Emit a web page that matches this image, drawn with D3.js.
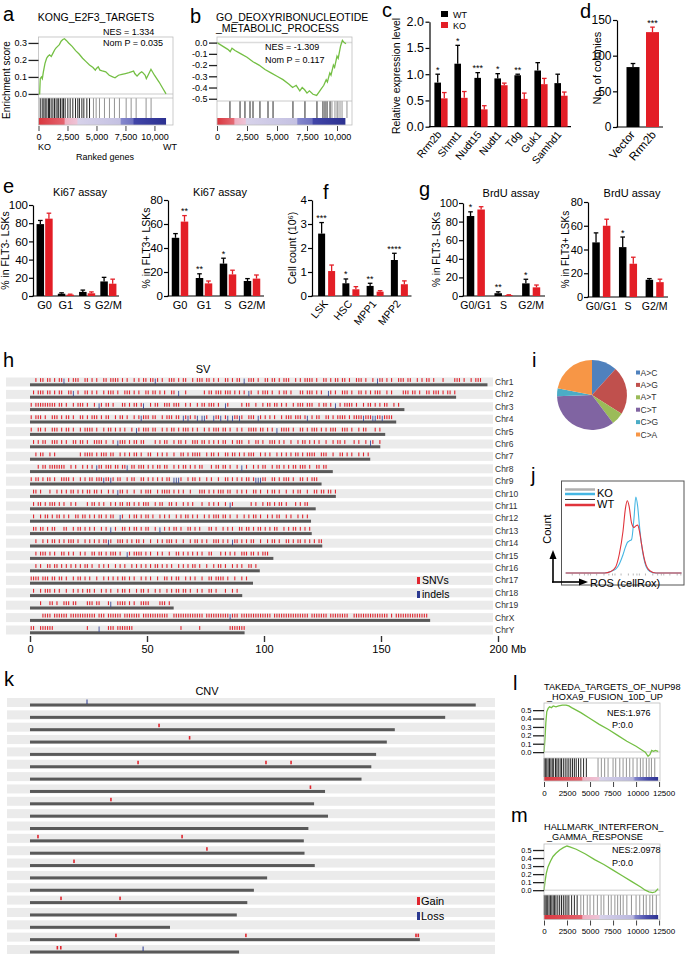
<!DOCTYPE html>
<html><head><meta charset="utf-8">
<script src="https://cdn.jsdelivr.net/npm/d3@7"></script>
<style>body{margin:0;background:#fff}</style>
</head><body>
<script>
// ================= DATA =================
// a: KONG_E2F3_TARGETS running enrichment score
const gseaA_rank = [0,100,150,250,330,420,560,700,800,950,1100,1250,1400,1500,1650,1800,1950,2100,2240,2400,2600,2900,3200,3500,3800,4100,4400,4700,4900,5000,5150,5300,5500,5800,6100,6400,6600,6900,7200,7500,7800,8000,8200,8300,8500,8700,8900,9000,9200,9300,9450,9700,10000,10400,10700,11000];
const gseaA_es = [0,0.0,0.09,0.10,0.09,0.13,0.18,0.21,0.22,0.23,0.22,0.24,0.26,0.27,0.28,0.29,0.31,0.32,0.325,0.315,0.30,0.28,0.255,0.235,0.21,0.19,0.17,0.155,0.14,0.15,0.16,0.14,0.135,0.13,0.11,0.10,0.095,0.11,0.115,0.12,0.125,0.13,0.135,0.12,0.105,0.12,0.13,0.125,0.11,0.09,0.11,0.145,0.11,0.07,0.035,0.0];
const gseaA_hits = [150,320,460,580,720,860,950,1090,1240,1380,1520,1670,1750,1900,2040,2160,2300,2530,2730,2960,3190,3390,3530,3740,3910,4170,4400,4740,4970,5260,5690,6120,6550,6980,7560,7990,8420,9280,9710];
// b: GO_DEOXYRIBONUCLEOTIDE_METABOLIC_PROCESS
const gseaB_rank = [0,300,600,900,1100,1250,1500,2000,2500,3000,3500,4000,4500,5000,5500,6000,6300,6600,6900,7100,7300,7500,7700,8000,8300,8500,8700,8900,9100,9200,9400,9500,9700,9800,10000,10100,10300,10450,10600,10750];
const gseaB_es = [0,-0.02,-0.04,-0.06,-0.08,-0.05,-0.07,-0.10,-0.13,-0.17,-0.20,-0.24,-0.27,-0.30,-0.33,-0.37,-0.40,-0.38,-0.43,-0.40,-0.42,-0.45,-0.43,-0.46,-0.47,-0.44,-0.41,-0.38,-0.33,-0.35,-0.27,-0.29,-0.20,-0.22,-0.12,-0.14,-0.03,0.02,0.0,-0.01];
const gseaB_hits = [1080,1920,2330,2750,3000,3580,4250,4670,6330,7330,8330,8830,9000,9170,9420,9580,9830,10000,10080,10250,10420,10830];
// l: TAKEDA_TARGETS_OF_NUP98_HOXA9_FUSION_10D_UP
const gseaL_rank = [0,100,200,300,450,600,800,1000,1300,1600,2000,2400,2700,3000,4000,5000,6000,7000,8000,9000,10000,10500,11000,11300,11500,11700,11900,12100,12400];
const gseaL_es = [0,0.15,0.35,0.48,0.52,0.54,0.53,0.55,0.54,0.55,0.56,0.56,0.55,0.53,0.47,0.40,0.33,0.27,0.20,0.13,0.07,0.035,0.0,-0.05,-0.03,0.02,0.01,0.02,0.01];
const gseaL_hits = [30,150,300,450,600,750,900,1050,1250,1400,1550,1750,1900,2100,2300,2500,2700,2900,3100,3300,3500,3750,4000,4300,4600,5870,6230,6590,6960,7500,7790,8230,8590,8950,9310,9670,10110,10470,10760,11120,11410,11670,12030];
// m: HALLMARK_INTERFERON_GAMMA_RESPONSE
const gseaM_rank = [0,100,250,430,700,980,1300,1700,2100,2500,2800,3500,4500,5500,6500,7500,8500,9500,10500,11000,11400,11800,12100,12400];
const gseaM_es = [0,0.1,0.21,0.29,0.36,0.42,0.46,0.5,0.53,0.55,0.54,0.51,0.45,0.38,0.32,0.25,0.18,0.11,0.04,0.0,-0.02,-0.03,-0.02,0.02];
const gseaM_hits = [30,120,250,400,550,700,850,1000,1150,1300,1500,1700,1900,2100,2300,2500,2700,3000,3300,3600,4000,4300,4700,5000,5400,5800,6200,6500,7000,7300,7700,8000,8300,8600,9000,9500,10000,10400,10800,11100,11500,11800,12200];

// c: relative expression
const cCats = ["Rrm2b","Shmt1","Nudt15","Nudt1","Tdg","Guk1","Samhd1"];
const cWT = [0.84,1.20,0.93,0.92,0.98,1.07,0.83];
const cWTerr = [0.16,0.35,0.10,0.09,0.02,0.15,0.17];
const cKO = [0.54,0.55,0.33,0.79,0.53,0.81,0.59];
const cKOerr = [0.11,0.12,0.07,0.04,0.11,0.11,0.07];
const cStars = ["*","*","***","*","**","",""];
const cTicks = [0,0.5,1.0,1.5,2.0];
// d: colonies
const dCats = ["Vector","Rrm2b"];
const dVal = [84,133];
const dErr = [5,7];
const dStars = ["","***"];
const dTicks = [0,50,100,150];
// e: Ki67
const eCats = ["G0","G1","S","G2/M"];
const e1WT = [79,2.5,4.5,16], e1WTerr = [4,1,2,4.5];
const e1KO = [85,1.5,3,13.5], e1KOerr = [6,0.5,1.5,5];
const e1Ticks = [0,20,40,60,80,100];
const e2WT = [48.5,15,27,12.5], e2WTerr = [3.5,3.5,4.5,2];
const e2KO = [62,10.5,18,14.5], e2KOerr = [5,2,3.5,3];
const e2StarsWT = ["","**","*",""], e2StarsKO = ["**","","",""];
const e2Ticks = [0,20,40,60,80];
// f: cell count
const fCats = ["LSK","HSC","MPP1","MPP2"];
const fWT = [2.6,0.53,0.42,1.5], fWTerr = [0.46,0.18,0.11,0.28];
const fKO = [1.04,0.28,0.18,0.49], fKOerr = [0.25,0.11,0.04,0.14];
const fStars = ["***","*","**","****"];
const fTicks = [0,1,2,3,4];
// g: BrdU
const gCats = ["G0/G1","S","G2/M"];
const g1WT = [86,3,13.6], g1WTerr = [4.5,1.5,4.4];
const g1KO = [93,1,9.3], g1KOerr = [3,0.3,2.5];
const g1Stars = ["*","**","*"];
const g2WT = [46,42,14.5], g2WTerr = [8,8.5,1];
const g2KO = [60,28,12.5], g2KOerr = [5.5,5.5,2.5];
const g2Stars = ["","*",""];
// h / k: chromosomes (Mb)
const chrNames = ["Chr1","Chr2","Chr3","Chr4","Chr5","Chr6","Chr7","Chr8","Chr9","Chr10","Chr11","Chr12","Chr13","Chr14","Chr15","Chr16","Chr17","Chr18","Chr19","ChrX","ChrY"];
const chrLens = [195.5,182.1,160.0,156.5,151.8,149.7,145.4,129.4,124.6,130.7,122.1,120.1,120.4,124.9,104.0,98.2,95.3,90.7,61.4,171.0,91.7];
// SV track: one character per Mb  ('|' SNV, 'b' indel, '.' none)
const svTracks = [
"..|.||.||.|.||b.|.|||..||.|.|..||.||||.|.|..|.|.||.||b|.|..|||.|.||..|.|||.||.|.|..||.|.||.b.|||.|..||.||.|.|||..|.|.||||.|..||.|.||.||.|..|||.|..|.b||.|.|..|||.||..|.|.||.|...|....|||.|..|.|||",
".|.|||.||.|.||..||b.|..||.|.|..|.|||.|..|||.|.|..||.||.|.|..||.b..|.......|.||.|||.|||.|.|.|.b|..|.|||.|..|.||.|...||.|||.|.|..b|.|..|||.|..||.|.|.|||..|.|....|||.||.|..||.|||.|.||.|",
"|.|||||||||.||.|..|.|||.|..|.b|.||.|...||.|.||.|b..|.||..|||.|||..|.|..|.||.|||.|..b|.....|.||..|..|.||.||.|.|..|.|||.|||..|.||.|.b.|.||||.|..|.||.|.|.||..|.|.",
"|.|||.|..|||.|.||.|..||.|.|||.|.||..|.||.|..|.|b|||.||..|.|||.||.b|b|.|b.bb|..b||b.|b.b||b|..|||.b|.|.|.|..|.|||.|||.|b.|.||..||.|.||||.|.||||b|||bb||b||||.|",
"|..||.|..|||.|.||.|..|.||||.|..|.||.|.|.|..|.b|.|||.||..|.|.||.|.|||.|.|..|.|.|||.||.|..|.|..||||.||.|.|.b.||||.|..||.|.|||.|.|.|||..|||.|..|.||...|.|..|.b|",
".|.|.||..|||.|.|..||.||.|..||||.|..|.b|||.|.||.||....|.|.||..|.||.|..|||.||.|.|.|.||..|.|||..|..||.|..|||.|.|..|..|.||.|.|.|..|..|.||.|...|.|..|.b|..|..",
"..|.||..|.|..........|.||||.|.|||.||..|.|.|.||.|..||..|.|.|..|..||.|.||||..|.||.|..||.||.|.|.|||..|.|.|..|.|.|.|.||.|.||||..|||..|..||.|.|..|.|.||.",
"...|.||.|||||||..|.|..|.|.|.b||.|||.||.||b.||.|||.|.|.||.||..|.|.||.|.|.||...|.||.||.|..|.b.|..|.|.||..|.||.|.|.||.|||.|..||.||",
"|.||.|.||.|..||||.|..|.|.||.|||b||b|.||..|.||..||.|.|.|.|.||.bbb|..|.||.|..|.|..|..||.|.|.|.||.|bbb||..||.|.|||.|..||.|.|||..",
".||.|...|..|.|.|.||.|.|.||.||.|..|.|.b||.|..|..|.|||..|.||||.|.|.|..|...|||.|.|.|||.||..|.|.|..||.|..|.||.|..|..|.||..|..||.||.||.|..|",
".|.||.|.|||.|.|..|.|....|.||.|.|..|.|.||.||.|.|.|||..|.||..||.|..|.|.|...|..|.|.|..|.b|.......|.|..|.||.|.||.|...|.|.||",
".|..|.||.|.||.|.|..||.||.|.|.||.|.||..b|..|.||.|.||.|..|.|.|..|.|.||.|.|..|.|.|||.||.|..|..|.|.||.|..|.|.||..|.|..|.|.|",
".||.||.|.||...||..|.||.|.|.|..|.|.b.|..||.|.||.|.||..|.b.|.|.||.|..||.|.|...||.|..|.|.|..||.||.|.||.|.|.||..|.|.||.|.|.|",
"..|..|.|.||.|.|.|||.|..|.|.|.|.||b|..|||.|.|.||.|..|..|.|.|||.|..|..|.||.|.|..|||.|.|.b||.|.|.||..|..|.||.|..||.|.||.|.|.|.||",
"..|.|||.|.|..||.|.|..|.|..||.||.|.|||.|..b|.||||.|.|..|.|..|..||.|.|.|.|.|..||...|.|.|.|..|||.||.|.|||..|",
"..|.|..||.||.|.|.|.|.|.||.|..|.|.|..|.|.|..|.|.|.|.|.||.|.|.|..|.|.|.||.|..|..|.||.|..|.|.|..||.|.",
"||||.|||.||.||.|..|.||.|.|..|..|.|.|.|.||.|.|..|.|.|..|..||.|.||..|.|.|..|..||.||||.|..|..|.|..|..",
".|..|.|||.|.|..|..|.|.|.||.|..|.|.|..|.||.|..|.||.|..|.|..|.|.||.||.|..|.|..||.|...|..|.|",
"....|...||.|..|||.||....|||.||...|b..||||.|.|..||||....|||.|",
".....||||.||||||.|||||||||||.|||.||||||.|||||||.|||||||||||..|||||||||||||.||||||||||b|||.|||||||||||||.|||||||||||||||.|||||||.||||||||..|||||||||||||||.|.||||||||||||||.||||||||.|||.||",
"||..||||||..............|....b...|||.|||||||....................|.......|............|||||||"
];
// k: CNV (chromosome index, Mb)
const cnvGainChr = [3,4,6,6,6,8,9,12,12,13,14,17,17,20,20,20,20,21,21];
const cnvGainPos = [56.6,70,47.4,103.5,114.5,123,35.5,3.5,66.7,77.6,19.3,13.6,39.5,37.7,94.7,169.3,170.3,12,13.5];
const cnvLossChr = [1,21];
const cnvLossPos = [25,49.6];
// i: mutation spectrum (%)
const pieCats = ["A>C","A>G","A>T","C>T","C>G","C>A"];
const pieVals = [11.7,22.2,5.8,34.7,3.6,21.9];
// j: ROS histogram (relative counts)
const rosX = [3,35,40,44,47,50,52,53.5,55,57,59,60.5,62,63.5,65,67,69,72,77,98];
const rosWT = [0,0,2,8,25,55,85,95,88,66,60,62,63,55,40,22,10,3,0,0];
const rosKO = [0,0,2,5,12,24,34,40,42,44,72,100,88,62,40,20,8,2,0,0];

// ================= DRAW =================
const F = "'Liberation Sans', Arial, Helvetica, sans-serif";
const RED = "#e31e26";
const svg = d3.select("body").append("svg").attr("width",685).attr("height",955).style("display","block");
svg.append("rect").attr("width",685).attr("height",955).attr("fill","#fff");
const defs = svg.append("defs");

function T(x,y,s,o={}) {
  const t = svg.append("text").attr("x",x).attr("y",y).text(s)
    .attr("font-family",F).attr("font-size",o.fs||10).attr("fill",o.fill||"#000")
    .attr("text-anchor",o.anchor||"start");
  if (o.rot!==undefined) t.attr("transform",`rotate(${o.rot},${x},${y})`);
  return t;
}
function styleAxis(s, fs, col="#000", w=1.2) {
  s.select(".domain").attr("stroke",col).attr("stroke-width",w);
  s.selectAll(".tick line").attr("stroke",col).attr("stroke-width",w);
  s.selectAll(".tick text").attr("font-family",F).attr("font-size",fs).attr("fill","#000");
}

// panel letters
[["a",3,21],["b",190,23],["c",382,17],["d",580,18],["e",3,193],["f",323,199],["g",419,196],
 ["h",3,367],["i",532,367],["j",531,482],["k",4,686],["l",513,690],["m",511,822]].forEach(p=>T(p[1],p[2],p[0],{fs:20}));

// ---------- GSEA ----------
function gsea(c) {
  const x = d3.scaleLinear().domain([0,c.xMax]).range([c.x0,c.x1]);
  const y = d3.scaleLinear().domain(c.yDom).range([c.esB,c.top]);
  const g = svg.append("g");
  const gid = "grad"+c.id;
  const lg = defs.append("linearGradient").attr("id",gid);
  c.stops.forEach(s=>lg.append("stop").attr("offset",s[0]).attr("stop-color",s[1]));
  g.append("rect").attr("x",x(0)).attr("y",c.hitB).attr("width",x(c.cbEnd)-x(0)).attr("height",c.cbB-c.hitB).attr("fill",`url(#${gid})`);
  g.append("line").attr("x1",c.x0).attr("x2",c.x1).attr("y1",y(0)).attr("y2",y(0)).attr("stroke","#dcdcdc").attr("stroke-width",1.5);
  c.hits.forEach(h=>g.append("line").attr("x1",x(h)).attr("x2",x(h)).attr("y1",c.esB).attr("y2",c.hitB)
    .attr("stroke", h < c.dark ? "#111" : "#888").attr("stroke-width",0.9));
  g.append("path").datum(d3.zip(c.ranks,c.es)).attr("d",d3.line().x(d=>x(d[0])).y(d=>y(d[1])))
    .attr("fill","none").attr("stroke","#74bf44").attr("stroke-width",1.3);
  g.append("rect").attr("x",c.x0).attr("y",c.top).attr("width",c.x1-c.x0).attr("height",c.cbB-c.top)
    .attr("fill","none").attr("stroke","#bdbdbd").attr("stroke-width",0.8);
  g.append("line").attr("x1",c.x0).attr("x2",c.x1).attr("y1",c.esB).attr("y2",c.esB).attr("stroke","#bdbdbd").attr("stroke-width",0.8);
  g.append("g").attr("transform",`translate(${c.x0},0)`)
    .call(d3.axisLeft(y).tickValues(c.yTicks).tickSize(c.tl).tickPadding(1.5).tickFormat(v=>v.toFixed(1)))
    .call(s=>{styleAxis(s,c.fs,"#222",1.3); s.select(".domain").remove();});
  g.append("g").attr("transform",`translate(0,${c.cbB+1})`)
    .call(d3.axisBottom(x).tickValues(c.xTicks).tickSize(5).tickPadding(3).tickFormat(c.xFmt))
    .call(s=>{styleAxis(s,c.xfs,"#444",1); s.select(".domain").remove();
      if (c.shift) s.selectAll(".tick text").attr("dx",d=>c.shift[d]||0);});
}
const stopsA = [[0,"#d9363e"],[0.2,"#e4646f"],[0.21,"#efb0c2"],[0.3,"#eec3d6"],[0.31,"#d7d2ea"],[0.64,"#c4c1e2"],[0.65,"#8588cd"],[0.74,"#6f72c1"],[0.75,"#4145a8"],[1,"#2c3191"]];
const stopsB = [[0,"#d9363e"],[0.13,"#e46a74"],[0.14,"#efb0c2"],[0.22,"#eec3d6"],[0.23,"#d7d2ea"],[0.62,"#c4c1e2"],[0.63,"#8588cd"],[0.74,"#6f72c1"],[0.75,"#4145a8"],[1,"#2c3191"]];
const stopsL = [[0,"#d9363e"],[0.33,"#e4646f"],[0.34,"#efb0c2"],[0.48,"#eec3d6"],[0.49,"#d7d2ea"],[0.78,"#b9b7de"],[0.8,"#7f82ca"],[0.9,"#4a4eac"],[1,"#2c3191"]];
const lmShift = {7500:-1, 10000:1.5, 12500:4.5};

gsea({id:"a",x0:38.5,x1:173,xMax:11600,top:37,esB:98,hitB:118,cbB:125,yDom:[-0.024,0.335],ranks:gseaA_rank,es:gseaA_es,hits:gseaA_hits,dark:4500,
  stops:stopsA,cbEnd:11000,yTicks:[0,0.1,0.2,0.3],tl:10,fs:9,xTicks:[0,2500,5000,7500,10000],xFmt:d3.format(","),xfs:9});
gsea({id:"b",x0:217,x1:352,xMax:11250,top:37,esB:101,hitB:118,cbB:125,yDom:[-0.52,0.05],ranks:gseaB_rank,es:gseaB_es,hits:gseaB_hits,dark:9500,
  stops:stopsB,cbEnd:10700,yTicks:[0,-0.1,-0.2,-0.3,-0.4,-0.5],tl:8,fs:9,xTicks:[0,2500,5000,7500,10000],xFmt:d3.format(","),xfs:9});
gsea({id:"l",x0:544,x1:660,xMax:12600,top:703,esB:758,hitB:777,cbB:781,yDom:[-0.07,0.585],ranks:gseaL_rank,es:gseaL_es,hits:gseaL_hits,dark:5000,
  stops:stopsL,cbEnd:12400,yTicks:[0,0.1,0.2,0.3,0.4,0.5],tl:11,fs:7.6,xTicks:[0,2500,5000,7500,10000,12500],xFmt:d3.format("d"),xfs:8,shift:lmShift});
gsea({id:"m",x0:544,x1:660,xMax:12600,top:844,esB:895,hitB:915,cbB:919.5,yDom:[-0.06,0.575],ranks:gseaM_rank,es:gseaM_es,hits:gseaM_hits,dark:4000,
  stops:stopsL,cbEnd:12400,yTicks:[0,0.1,0.2,0.3,0.4,0.5],tl:11,fs:7.3,xTicks:[0,2500,5000,7500,10000,12500],xFmt:d3.format("d"),xfs:8,shift:lmShift});

T(96,20.5,"KONG_E2F3_TARGETS",{fs:10.5,anchor:"middle"});
T(103,35,"NES = 1.334",{fs:9}); T(103,46,"Nom P = 0.035",{fs:9});
T(38,150,"KO",{fs:9}); T(177,150,"WT",{fs:9,anchor:"end"});
T(105,160,"Ranked genes",{fs:9,anchor:"middle"});
T(10,80,"Enrichment score",{fs:10,anchor:"middle",rot:-90});
T(216,21,"GO_DEOXYRIBONUCLEOTIDE",{fs:10.5}); T(216,32,"_METABOLIC_PROCESS",{fs:10.5});
T(265,50,"NES = -1.309",{fs:9}); T(265,63,"Nom P = 0.117",{fs:9});
T(544,690,"TAKEDA_TARGETS_OF_NUP98",{fs:9.2}); T(547,700,"_HOXA9_FUSION_10D_UP",{fs:9.2});
T(607,716,"NES:1.976",{fs:9}); T(612,728,"P:0.0",{fs:9});
T(544,830,"HALLMARK_INTERFERON_",{fs:9.2}); T(547,840,"_GAMMA_RESPONSE",{fs:9.2});
T(612,853,"NES:2.0978",{fs:9}); T(612,866,"P:0.0",{fs:9});

// ---------- bar charts ----------
function barChart(c) {
  const y = d3.scaleLinear().domain([0,c.yMax]).range([c.base,c.top]);
  const x = d3.scaleBand().domain(c.cats).range(c.xr);
  const g = svg.append("g");
  g.append("g").attr("transform",`translate(${c.ax},0)`)
    .call(d3.axisLeft(y).tickValues(c.ticks).tickSize(4).tickSizeOuter(0).tickPadding(c.pad||1.5).tickFormat(c.fmt||(d=>d)))
    .call(s=>styleAxis(s,c.fs));
  g.append("line").attr("x1",c.ax-0.6).attr("x2",c.xr[1]).attr("y1",c.base).attr("y2",c.base).attr("stroke","#000").attr("stroke-width",1.2);
  c.series.forEach(s=>{
    c.cats.forEach((cat,i)=>{
      const cx = x(cat)+x.bandwidth()/2 + (Array.isArray(s.off)?s.off[i]:s.off);
      const col = Array.isArray(s.color)?s.color[i]:s.color;
      const v = s.vals[i], e = s.errs[i];
      g.append("rect").attr("x",cx-c.bw/2).attr("width",c.bw).attr("y",y(v)).attr("height",c.base-y(v)).attr("fill",col);
      if (e>0) {
        g.append("line").attr("x1",cx).attr("x2",cx).attr("y1",y(v)).attr("y2",y(v+e)).attr("stroke",col).attr("stroke-width",1.3);
        g.append("line").attr("x1",cx-2.3).attr("x2",cx+2.3).attr("y1",y(v+e)).attr("y2",y(v+e)).attr("stroke",col).attr("stroke-width",1.3);
      }
      if (s.stars && s.stars[i]) T(cx, y(v+e)-1.5, s.stars[i], {fs:9, anchor:"middle"});
    });
  });
  c.cats.forEach(cat=>{
    const cx = x(cat)+x.bandwidth()/2;
    if (c.rot) T(cx+c.lx, c.base+c.ly, cat, {fs:c.lfs, anchor:"end", rot:c.rot});
    else T(cx, c.base+c.ly, cat, {fs:c.lfs, anchor:"middle"});
  });
  if (c.ylabel) T(c.ylx, c.yly||(c.base+c.top)/2, c.ylabel, {fs:c.yfs, anchor:"middle", rot:-90});
}

barChart({cats:cCats,yMax:2,base:126.7,top:21.7,ax:429.5,xr:[431,571],ticks:cTicks,fmt:d=>d.toFixed(1),fs:12.5,bw:6.6,
  series:[{vals:cWT,errs:cWTerr,color:"#000",off:-3.3,stars:cStars},{vals:cKO,errs:cKOerr,color:RED,off:3.3}],
  rot:-50,lx:1,ly:8,lfs:10.5,ylabel:"Relative expression level",ylx:400,yfs:10.5,yly:76});
svg.append("rect").attr("x",441).attr("y",11).attr("width",7).attr("height",6).attr("fill","#000");
svg.append("rect").attr("x",441).attr("y",22).attr("width",7).attr("height",6).attr("fill",RED);
T(453,17.5,"WT",{fs:9}); T(453,28.5,"KO",{fs:9});

barChart({cats:dCats,yMax:150,base:127,top:20,ax:617,xr:[621,663],ticks:dTicks,fs:12,bw:13,
  series:[{vals:dVal,errs:dErr,color:["#000",RED],off:[1.5,0],stars:dStars}],
  rot:-50,lx:4,ly:8,lfs:11.5,ylabel:"No. of colonies",ylx:601,yfs:11,yly:68});

barChart({cats:eCats,yMax:100,base:296,top:205,ax:33,xr:[34,119],ticks:e1Ticks,fs:11.5,bw:7.5,pad:1,
  series:[{vals:e1WT,errs:e1WTerr,color:"#000",off:-4.3},{vals:e1KO,errs:e1KOerr,color:RED,off:4.3}],
  ly:13,lfs:11,ylabel:"% in FLT3- LSKs",ylx:8.5,yfs:10.5});
barChart({cats:eCats,yMax:80,base:296,top:200,ax:168,xr:[168,264],ticks:e2Ticks,fs:11.5,bw:7.5,pad:1,
  series:[{vals:e2WT,errs:e2WTerr,color:"#000",off:-4.5,stars:e2StarsWT},{vals:e2KO,errs:e2KOerr,color:RED,off:4.5,stars:e2StarsKO}],
  ly:13,lfs:11,ylabel:"% in FLT3+ LSKs",ylx:150,yfs:10.5});
T(80,196,"Ki67 assay",{fs:11,anchor:"middle"}); T(220,196,"Ki67 assay",{fs:11,anchor:"middle"});

barChart({cats:fCats,yMax:4,base:296,top:200,ax:312,xr:[314.5,411.5],ticks:fTicks,fs:11.5,bw:7,pad:1,
  series:[{vals:fWT,errs:fWTerr,color:"#000",off:-5,stars:fStars},{vals:fKO,errs:fKOerr,color:RED,off:5}],
  rot:-50,lx:2,ly:8,lfs:10.5,ylabel:"Cell count (10\u2076)",ylx:296,yfs:10.5});

barChart({cats:gCats,yMax:100,base:296,top:203,ax:463,xr:[462,545],ticks:e1Ticks,fs:11,bw:7.5,pad:1,
  series:[{vals:g1WT,errs:g1WTerr,color:"#000",off:-5.3,stars:g1Stars},{vals:g1KO,errs:g1KOerr,color:RED,off:5.3}],
  ly:13,lfs:10.5,ylabel:"% in FLT3- LSKs",ylx:439.5,yfs:10});
barChart({cats:gCats,yMax:80,base:297,top:202,ax:588,xr:[588,668],ticks:e2Ticks,fs:11,bw:7.5,pad:1,
  series:[{vals:g2WT,errs:g2WTerr,color:"#000",off:-5.3,stars:g2Stars},{vals:g2KO,errs:g2KOerr,color:RED,off:5.3}],
  ly:13,lfs:10.5,ylabel:"% in FLT3+ LSKs",ylx:568.5,yfs:10});
T(511,197,"BrdU assay",{fs:11,anchor:"middle"}); T(632,197,"BrdU assay",{fs:11,anchor:"middle"});

// ---------- h: SV ----------
const hx = d3.scaleLinear().domain([0,200]).range([30,498]);
T(203,373,"SV",{fs:11,anchor:"middle"});
chrNames.forEach((nm,i)=>{
  const bt = 377.5 + i*12.4;
  svg.append("rect").attr("x",6).attr("y",bt).attr("width",487).attr("height",9).attr("fill","#ebebeb");
  svg.append("rect").attr("x",hx(0)).attr("y",bt+5.8).attr("width",hx(chrLens[i])-hx(0)).attr("height",3).attr("fill","#595959");
  T(495,bt+7.5,nm,{fs:8.5,fill:"#333"});
  const tr = svTracks[i];
  for (let k=0;k<tr.length && k+0.5<chrLens[i];k++){
    const ch = tr[k];
    if (ch==="|") svg.append("rect").attr("x",hx(k+0.5)-0.5).attr("y",bt+0.6).attr("width",1.1).attr("height",3.8).attr("fill","#e0262f");
    else if (ch==="b") svg.append("rect").attr("x",hx(k+0.5)-0.4).attr("y",bt+1).attr("width",0.9).attr("height",5.5).attr("fill","#3a4a9a");
  }
});
svg.append("g").attr("transform","translate(0,636)")
  .call(d3.axisBottom(hx).tickValues([0,50,100,150,200]).tickSize(6).tickPadding(3).tickFormat(d=>d===200?"200 Mb":d))
  .call(s=>{styleAxis(s,11,"#333",1.4); s.select(".domain").remove();
    s.selectAll(".tick text").filter(d=>d===200).attr("text-anchor","start").attr("x",-9);});
svg.append("rect").attr("x",417).attr("y",577).attr("width",3).attr("height",7).attr("fill","#e0262f");
svg.append("rect").attr("x",417).attr("y",591).attr("width",3).attr("height",7).attr("fill","#2b3990");
T(422,584,"SNVs",{fs:10.5}); T(422,598,"indels",{fs:10.5});

// ---------- k: CNV ----------
const kx = d3.scaleLinear().domain([0,200]).range([30,486]);
T(207,695,"CNV",{fs:11,anchor:"middle"});
chrNames.forEach((nm,i)=>{
  const bt = 698 + i*12.35;
  svg.append("rect").attr("x",7).attr("y",bt).attr("width",488).attr("height",9).attr("fill","#ebebeb");
  svg.append("rect").attr("x",kx(0)).attr("y",bt+5.5).attr("width",kx(chrLens[i])-kx(0)).attr("height",3).attr("fill","#595959");
});
cnvGainChr.forEach((c,j)=>{
  const bt = 698 + (c-1)*12.35;
  svg.append("rect").attr("x",kx(cnvGainPos[j])-0.8).attr("y",bt+1).attr("width",1.6).attr("height",3.5).attr("fill","#e0262f");
});
cnvLossChr.forEach((c,j)=>{
  const bt = 698 + (c-1)*12.35;
  svg.append("rect").attr("x",kx(cnvLossPos[j])-0.5).attr("y",bt+1.5).attr("width",1).attr("height",4.5).attr("fill","#2b3990");
});
svg.append("rect").attr("x",417).attr("y",897).attr("width",3).attr("height",8).attr("fill","#e0262f");
svg.append("rect").attr("x",417).attr("y",912).attr("width",3).attr("height",8).attr("fill","#2b3990");
T(421,905,"Gain",{fs:11}); T(421,920,"Loss",{fs:11});

// ---------- i: pie ----------
const pieColors = ["#4f81bd","#c0504d","#9bbb59","#8064a2","#4bacc6","#f79646"];
const pie = d3.pie().sort(null).value(d=>d)(pieVals);
const arc = d3.arc().innerRadius(0).outerRadius(35);
svg.append("g").attr("transform","translate(592,395)").selectAll("path").data(pie).join("path")
  .attr("d",arc).attr("fill",(d,i)=>pieColors[i]);
pieCats.forEach((nm,i)=>{
  const yy = 373 + i*12.4;
  svg.append("rect").attr("x",636).attr("y",yy-2.5).attr("width",4).attr("height",4).attr("fill",pieColors[i]);
  T(640.5,yy+2.5,nm,{fs:8.5,fill:"#333"});
});

// ---------- j: ROS histogram ----------
const jx = d3.scaleLinear().domain([0,100]).range([562,684]);
const jy = d3.scaleLinear().domain([0,100]).range([573,497]);
svg.append("rect").attr("x",561.5).attr("y",481).attr("width",122.5).attr("height",104).attr("fill","none").attr("stroke","#555").attr("stroke-width",1);
svg.append("g").attr("transform","translate(0,573.5)")
  .call(d3.axisBottom(jx).tickValues([8,14,18,21,23,28,34,38,41,43,48,54,58,61,63,68,74,78,81,83,88,94,97]).tickSize(2).tickFormat(""))
  .call(s=>{styleAxis(s,8,"#999",0.7); s.select(".domain").remove();});
const jl = d3.line().x((d,i)=>jx(rosX[i])).y(d=>jy(d)).curve(d3.curveMonotoneX);
svg.append("path").datum(rosKO).attr("d",jl).attr("fill","none").attr("stroke","#45b6e3").attr("stroke-width",1.1);
svg.append("path").datum(rosWT).attr("d",jl).attr("fill","none").attr("stroke","#e0343c").attr("stroke-width",1.1);
[[489.5,"#b0b0b0",2.5],[494,"#45b6e3",2.5],[499.5,"#333",1],[505,"#e0343c",2.5]].forEach(l=>
  svg.append("line").attr("x1",565).attr("x2",595).attr("y1",l[0]).attr("y2",l[0]).attr("stroke",l[1]).attr("stroke-width",l[2]));
T(597,496.5,"KO",{fs:11}); T(597,508,"WT",{fs:11});
svg.append("line").attr("x1",553).attr("x2",553).attr("y1",582.5).attr("y2",558).attr("stroke","#000").attr("stroke-width",1.6);
svg.append("path").attr("d","M553,550 L549.5,559 L556.5,559 Z").attr("fill","#000");
svg.append("line").attr("x1",552).attr("x2",580).attr("y1",582).attr("y2",582).attr("stroke","#000").attr("stroke-width",1.6);
svg.append("path").attr("d","M588,582 L579,578.5 L579,585.5 Z").attr("fill","#000");
T(590,587,"ROS (cellRox)",{fs:11});
T(551,529,"Count",{fs:11,anchor:"middle",rot:-90});
</script>
</body></html>
